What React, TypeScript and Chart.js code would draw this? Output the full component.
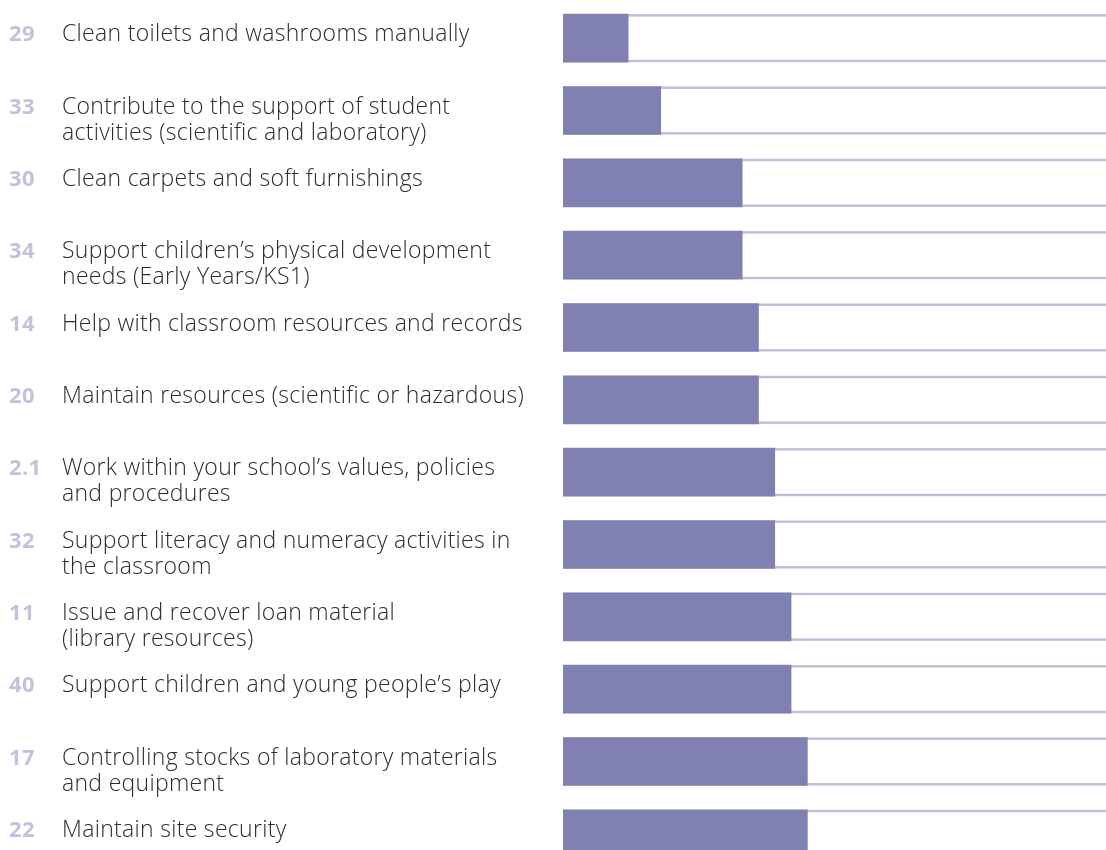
import React, { useEffect, useRef } from "react";
import { Chart, registerables } from "chart.js";

Chart.register(...registerables);

const codes = ["29", "33", "30", "34", "14", "20", "2.1", "32", "11", "40", "17", "22"];
const labelLines = [
  ["Clean toilets and washrooms manually"],
  ["Contribute to the support of student", "activities (scientific and laboratory)"],
  ["Clean carpets and soft furnishings"],
  ["Support children\u2019s physical development", "needs (Early Years/KS1)"],
  ["Help with classroom resources and records"],
  ["Maintain resources (scientific or hazardous)"],
  ["Work within your school\u2019s values, policies", "and procedures"],
  ["Support literacy and numeracy activities in", "the classroom"],
  ["Issue and recover loan material", "(library resources)"],
  ["Support children and young people\u2019s play"],
  ["Controlling stocks of laboratory materials", "and equipment"],
  ["Maintain site security"],
];
const values = [12, 18, 33, 33, 36, 36, 39, 39, 42, 42, 45, 45];
const SCALE_MAX = 100;

const BAR_COLOR = "#8080b2";
const TRACK_COLOR = "#bfbdda";
const CODE_COLOR = "#c3c2dd";
const TEXT_COLOR = "#2c2c2c";

const decorPlugin = {
  id: "decor",
  beforeDatasetsDraw(chart: any) {
    const { ctx, chartArea } = chart;
    const meta = chart.getDatasetMeta(0);
    ctx.save();
    ctx.fillStyle = TRACK_COLOR;
    meta.data.forEach((bar: any) => {
      const top = bar.y - bar.height / 2;
      const bottom = bar.y + bar.height / 2;
      ctx.fillRect(chartArea.left, top, chartArea.right - chartArea.left, 2.4);
      ctx.fillRect(chartArea.left, bottom - 2.4, chartArea.right - chartArea.left, 2.4);
    });
    ctx.restore();
  },
  afterDatasetsDraw(chart: any) {
    const { ctx } = chart;
    const meta = chart.getDatasetMeta(0);
    ctx.save();
    ctx.textAlign = "left";
    ctx.textBaseline = "alphabetic";
    meta.data.forEach((bar: any, i: number) => {
      const top = bar.y - bar.height / 2;
      const base = top + 27;
      ctx.font = "bold 22px 'Open Sans'";
      (ctx as any).letterSpacing = "0.3px";
      ctx.fillStyle = CODE_COLOR;
      ctx.fillText(codes[i], 9, base);
      ctx.font = "300 23px 'Open Sans'";
      (ctx as any).letterSpacing = "0.3px";
      ctx.fillStyle = TEXT_COLOR;
      labelLines[i].forEach((line, j) => {
        ctx.fillText(line, 62, base + j * 26);
      });
    });
    ctx.restore();
  },
};

export default function App() {
  const ref = useRef<HTMLCanvasElement | null>(null);
  useEffect(() => {
    if (!ref.current) return;
    const chart = new Chart(ref.current, {
      type: "bar",
      data: {
        labels: codes,
        datasets: [
          {
            data: values,
            backgroundColor: BAR_COLOR,
            borderWidth: 0,
            barThickness: 48,
          },
        ],
      },
      options: {
        indexAxis: "y",
        responsive: false,
        animation: false,
        layout: { padding: { left: 563, right: 0, top: 2, bottom: 0 } },
        plugins: { legend: { display: false }, tooltip: { enabled: false } },
        scales: {
          x: { display: false, min: 0, max: SCALE_MAX, grid: { display: false } },
          y: { display: false, offset: true, grid: { display: false } },
        },
      },
      plugins: [decorPlugin],
    });
    return () => chart.destroy();
  }, []);
  return (
    <div style={{ position: "fixed", left: 0, top: 0, width: 1106, height: 870, background: "#fff" }}>
      <canvas ref={ref} width={1106} height={870} style={{ width: 1106, height: 870 }} />
    </div>
  );
}
